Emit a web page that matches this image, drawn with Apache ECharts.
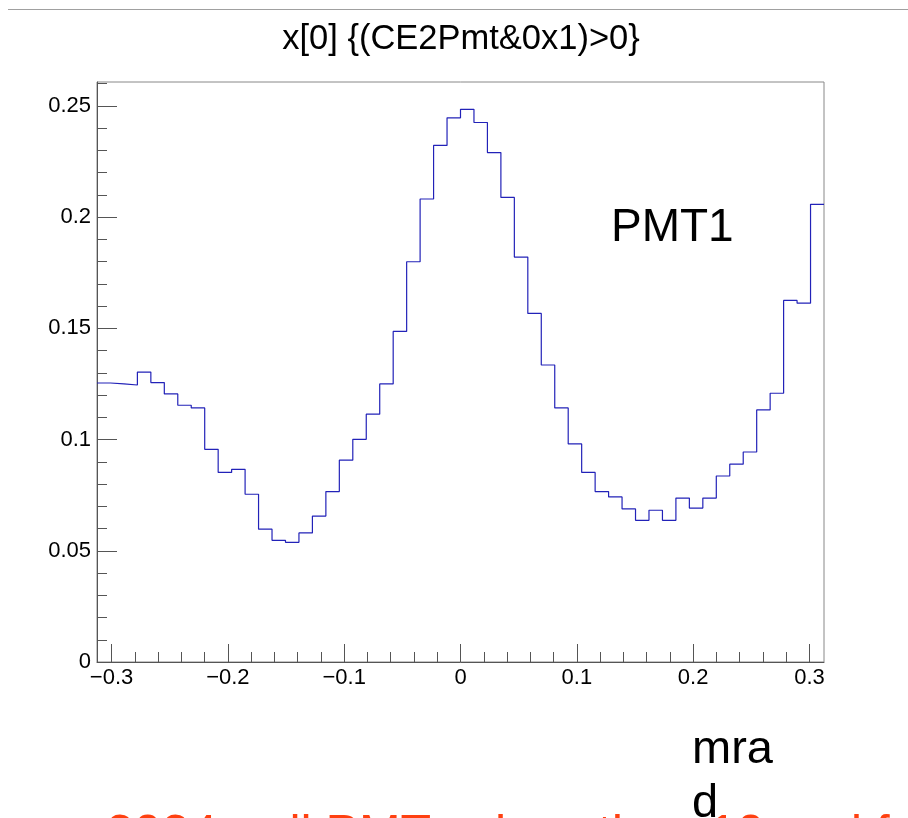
<!DOCTYPE html>
<html>
<head>
<meta charset="utf-8">
<script src="https://cdn.jsdelivr.net/npm/echarts@6/dist/echarts.min.js"></script>
<style>
  html, body { margin: 0; padding: 0; background: #ffffff; }
  #chart { width: 908px; height: 818px; }
</style>
</head>
<body>
<div id="chart"></div>
<script>
// ---- data ----
const chartTitle = 'x[0] {(CE2Pmt&0x1)>0}';
const xAxisTitle = 'mra\nd';
const annotation = 'PMT1';
const footnote = '2024 - all PMTs - less than 10 and f';
const xRange = [-0.3125, 0.3125];
const nBins = 54;
const binValues = [
  0.1254, 0.1250, 0.1245, 0.1303, 0.1256, 0.1205, 0.1154, 0.1142, 0.0956, 0.0852,
  0.0866, 0.0754, 0.0597, 0.0547, 0.0538, 0.0580, 0.0656, 0.0766, 0.0907, 0.1001,
  0.1114, 0.1250, 0.1486, 0.1799, 0.2081, 0.2322, 0.2446, 0.2484, 0.2425, 0.2290,
  0.2088, 0.1820, 0.1567, 0.1335, 0.1142, 0.0980, 0.0852, 0.0766, 0.0742, 0.0688,
  0.0637, 0.0682, 0.0637, 0.0737, 0.0692, 0.0737, 0.0836, 0.0889, 0.0944, 0.1133,
  0.1208, 0.1625, 0.1613, 0.2057
];
const yRange = [0, 0.2607];
const xMajorTicks = [-0.3, -0.2, -0.1, 0, 0.1, 0.2, 0.3];
const yMajorTicks = [0, 0.05, 0.1, 0.15, 0.2, 0.25];
const xMinorStep = 0.02;
const yMinorStep = 0.01;

// ---- derived ----
const binWidth = (xRange[1] - xRange[0]) / nBins;
const stepData = binValues.map((v, i) => [xRange[0] + i * binWidth, v]);
stepData.push([xRange[1], binValues[binValues.length - 1]]);

function minorTicks(range, step, majors) {
  const out = [];
  const start = Math.ceil(range[0] / step - 1e-9);
  const end = Math.floor(range[1] / step + 1e-9);
  for (let k = start; k <= end; k++) {
    const v = +(k * step).toFixed(6);
    if (!majors.some(m => Math.abs(m - v) < 1e-9)) out.push(v);
  }
  return out;
}
const xMinor = minorTicks(xRange, xMinorStep, xMajorTicks);
const yMinor = minorTicks(yRange, yMinorStep, yMajorTicks);

const fmt = v => {
  const s = String(+(+v).toFixed(3));
  return s.replace('-', '\u2212');
};

const axisColor = '#555';
const labelFont = 'Liberation Sans, Arial, Helvetica, sans-serif';

const chart = echarts.init(document.getElementById('chart'), null, { renderer: 'canvas' });
chart.setOption({
  animation: false,
  backgroundColor: '#ffffff',
  grid: {
    left: 97, top: 82, width: 727, height: 580,
    show: true, borderColor: '#888', borderWidth: 1, containLabel: false
  },
  xAxis: [
    {
      type: 'value', min: xRange[0], max: xRange[1], position: 'bottom',
      axisLine: { show: true, onZero: false, lineStyle: { color: axisColor, width: 1 } },
      axisTick: { show: true, inside: true, length: 18, customValues: xMajorTicks,
                  lineStyle: { color: axisColor, width: 1 } },
      axisLabel: { show: true, customValues: xMajorTicks, formatter: fmt, margin: 5,
                   color: '#000', fontSize: 22, fontFamily: labelFont },
      splitLine: { show: false }
    },
    {
      type: 'value', min: xRange[0], max: xRange[1], position: 'bottom',
      axisLine: { show: false, onZero: false },
      axisTick: { show: true, inside: true, length: 10, customValues: xMinor,
                  lineStyle: { color: axisColor, width: 1 } },
      axisLabel: { show: false },
      splitLine: { show: false }
    }
  ],
  yAxis: [
    {
      type: 'value', min: yRange[0], max: yRange[1], position: 'left',
      axisLine: { show: true, onZero: false, lineStyle: { color: axisColor, width: 1 } },
      axisTick: { show: true, inside: true, length: 20, customValues: yMajorTicks,
                  lineStyle: { color: axisColor, width: 1 } },
      axisLabel: { show: true, customValues: yMajorTicks, formatter: fmt, margin: 6,
                   color: '#000', fontSize: 22, fontFamily: labelFont },
      splitLine: { show: false }
    },
    {
      type: 'value', min: yRange[0], max: yRange[1], position: 'left',
      axisLine: { show: false, onZero: false },
      axisTick: { show: true, inside: true, length: 10, customValues: yMinor,
                  lineStyle: { color: axisColor, width: 1 } },
      axisLabel: { show: false },
      splitLine: { show: false }
    }
  ],
  series: [
    {
      type: 'line', xAxisIndex: 0, yAxisIndex: 0,
      data: stepData, step: 'end', showSymbol: false, symbol: 'none',
      lineStyle: { color: '#2222b8', width: 1.2 },
      silent: true
    }
  ],
  graphic: [
    { type: 'line', shape: { x1: 8, y1: 9.5, x2: 908, y2: 9.5 },
      style: { stroke: '#a0a0a0', lineWidth: 1 } },
    { type: 'text', x: 461, y: 39,
      style: { text: chartTitle, fontSize: 34.5, fontFamily: labelFont, fill: '#000',
               textAlign: 'center', textVerticalAlign: 'middle' } },
    { type: 'text', x: 611, y: 228,
      style: { text: annotation, fontSize: 46, fontFamily: labelFont, fill: '#000',
               textAlign: 'left', textVerticalAlign: 'middle' } },
    { type: 'text', x: 692, y: 723,
      style: { text: xAxisTitle, fontSize: 47, lineHeight: 54, fontFamily: labelFont, fill: '#000',
               textAlign: 'left', textVerticalAlign: 'top' } },
    { type: 'text', x: 106, y: 811,
      style: { text: footnote, fontSize: 50, fontFamily: labelFont, fill: '#ff4010',
               textAlign: 'left', textVerticalAlign: 'top' } }
  ]
});
</script>
</body>
</html>
